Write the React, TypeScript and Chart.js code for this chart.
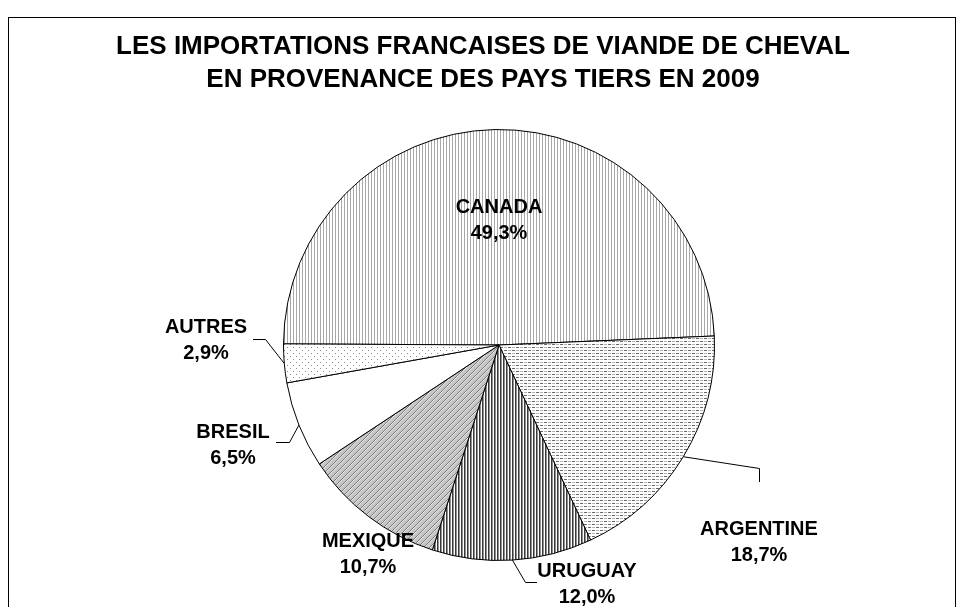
import React, { useEffect, useRef } from 'react';
import { Chart, registerables } from 'chart.js';

Chart.register(...registerables);

// ---- data ----
const CATEGORIES = ['CANADA', 'ARGENTINE', 'URUGUAY', 'MEXIQUE', 'BRESIL', 'AUTRES'];
const SHARES = [49.3, 18.7, 12.0, 10.7, 6.5, 2.9];
const TITLE_LINES = [
  'LES IMPORTATIONS FRANCAISES DE VIANDE DE CHEVAL',
  'EN PROVENANCE DES PAYS TIERS EN 2009',
];

// ---- layout (canvas coordinates) ----
const W = 948;
const H = 599;
const TITLE_X = 475;
const TITLE_Y = [39, 72];
const LINE_GAP = 26;
const LABEL_LAYOUT: { x: number; y: number; leader: number[][] | null }[] = [
  { x: 491, y: 199, leader: null },
  { x: 751, y: 521, leader: [[751.5, 460.5], [751.5, 474]] },
  { x: 579, y: 563, leader: [[517.5, 574.5], [529, 574.5]] },
  { x: 360, y: 533, leader: null },
  { x: 225, y: 424, leader: [[281.5, 434.5], [268, 434.5]] },
  { x: 198, y: 319, leader: [[257.5, 331.5], [245, 331.5]] },
];

function makePattern(w: number, h: number, draw: (c: CanvasRenderingContext2D) => void) {
  const c = document.createElement('canvas');
  c.width = w;
  c.height = h;
  const g = c.getContext('2d')!;
  draw(g);
  const ctx = document.createElement('canvas').getContext('2d')!;
  return ctx.createPattern(c, 'repeat')!;
}

function buildPatterns() {
  const px = (g: CanvasRenderingContext2D, x: number, y: number, col: string, w = 1, h = 1) => {
    g.fillStyle = col;
    g.fillRect(x, y, w, h);
  };
  const canada = makePattern(3, 1, (g) => {
    px(g, 0, 0, '#ffffff', 3, 1);
    px(g, 0, 0, '#a8a8a8');
  });
  const argentine = makePattern(8, 6, (g) => {
    px(g, 0, 0, '#ffffff', 8, 6);
    px(g, 0, 0, '#666666', 3, 1);
    px(g, 4, 0, '#b4b4b4', 3, 1);
    px(g, 4, 3, '#666666', 3, 1);
    px(g, 0, 3, '#b4b4b4', 3, 1);
  });
  const uruguay = makePattern(3, 1, (g) => {
    px(g, 0, 0, '#ffffff', 3, 1);
    px(g, 0, 0, '#3a3a3a');
    px(g, 1, 0, '#909090');
  });
  const mexique = makePattern(6, 6, (g) => {
    px(g, 0, 0, '#c6c6c6', 6, 6);
    for (let y = 0; y < 6; y++) {
      for (let x = 0; x < 6; x++) {
        if ((x + y) % 6 === 0) px(g, x, y, '#7a7a7a');
        else if ((x + y) % 6 === 1) px(g, x, y, '#e6e6e6');
      }
    }
  });
  const bresil = '#ffffff';
  const autres = makePattern(6, 6, (g) => {
    px(g, 0, 0, '#ffffff', 6, 6);
    px(g, 0, 0, '#8c8c8c');
    px(g, 3, 3, '#8c8c8c');
  });
  return [canada, argentine, uruguay, mexique, bresil, autres];
}

const fmtPct = (v: number) => v.toFixed(1).replace('.', ',') + '%';

export default function App() {
  const ref = useRef<HTMLCanvasElement>(null);

  useEffect(() => {
    const canvas = ref.current;
    if (!canvas) return;

    const labelPlugin = {
      id: 'customLabels',
      afterDraw(chart: any) {
        const ctx: CanvasRenderingContext2D = chart.ctx;
        ctx.save();
        ctx.fillStyle = '#000';
        ctx.textAlign = 'center';
        ctx.textBaseline = 'middle';
        ctx.font = 'bold 26px "Liberation Sans", Arial, sans-serif';
        TITLE_LINES.forEach((t, i) => ctx.fillText(t, TITLE_X, TITLE_Y[i]));

        const meta = chart.getDatasetMeta(0);
        ctx.strokeStyle = '#000';
        ctx.lineWidth = 1;
        meta.data.forEach((arc: any, i: number) => {
          const p = arc.getProps(['x', 'y', 'startAngle', 'endAngle', 'outerRadius'], true);
          const mid = (p.startAngle + p.endAngle) / 2;
          const ex = p.x + Math.cos(mid) * p.outerRadius;
          const ey = p.y + Math.sin(mid) * p.outerRadius;
          const L = LABEL_LAYOUT[i];
          if (L.leader) {
            ctx.beginPath();
            ctx.moveTo(ex, ey);
            L.leader.forEach(([x, y]) => ctx.lineTo(x, y));
            ctx.stroke();
          }
          ctx.font = 'bold 20px "Liberation Sans", Arial, sans-serif';
          ctx.fillText(CATEGORIES[i], L.x, L.y);
          ctx.fillText(fmtPct(SHARES[i]), L.x, L.y + LINE_GAP);
        });
        ctx.restore();
      },
    };

    const chart = new Chart(canvas, {
      type: 'pie',
      data: {
        labels: CATEGORIES,
        datasets: [
          {
            data: SHARES,
            backgroundColor: buildPatterns() as any,
            borderColor: '#000000',
            borderWidth: 1,
          },
        ],
      },
      options: {
        responsive: false,
        animation: false,
        rotation: -89.7,
        layout: { padding: { top: 121, bottom: 46, left: 100, right: 66 } },
        plugins: {
          legend: { display: false },
          tooltip: { enabled: false },
          title: { display: false },
        },
      },
      plugins: [labelPlugin],
    });

    return () => chart.destroy();
  }, []);

  return (
    <div style={{ position: 'relative', width: W, height: H, overflow: 'hidden', background: '#fff' }}>
      <div
        style={{
          position: 'absolute',
          left: 0,
          top: 9,
          width: W - 2,
          height: 700,
          border: '1px solid #000',
        }}
      />
      <canvas
        ref={ref}
        width={W}
        height={H}
        style={{ position: 'absolute', left: 0, top: 0, width: W, height: H }}
      />
    </div>
  );
}
